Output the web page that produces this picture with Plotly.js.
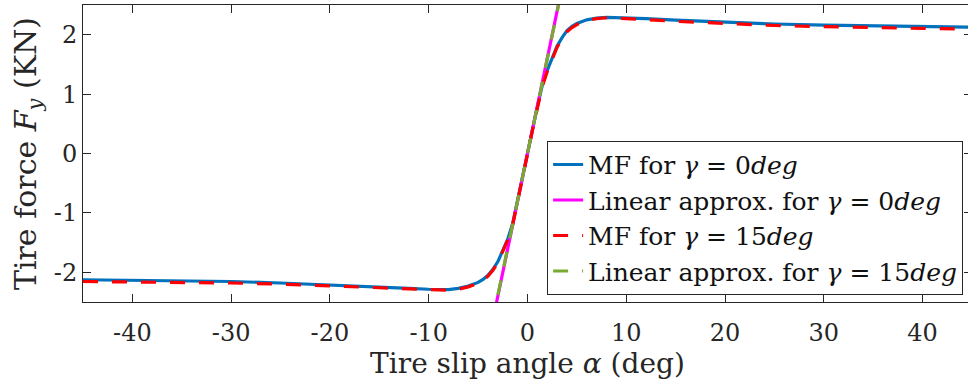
<!DOCTYPE html>
<html>
<head>
<meta charset="utf-8">
<script src="https://cdn.plot.ly/plotly-3.0.1.min.js"></script>
<style>
  html, body { margin: 0; padding: 0; overflow: hidden; background: #fff; }
  #chart { width: 976px; height: 387px; }
</style>
</head>
<body>
<div id="chart"></div>
<script>
// Slip angle samples (deg)
const slipAngle = [-45, -40, -35, -30, -25, -20, -15, -12, -10, -8, -7, -6, -5, -4.5, -4, -3.5, -3, -2.5, -2, -1.5, -1, -0.5,
  0, 0.5, 1, 1.5, 2, 2.5, 3, 3.5, 4, 4.5, 5, 6, 7, 8, 10, 12, 15, 20, 25, 30, 35, 40, 45];

// Magic Formula lateral force, camber 0 deg (kN)
const mfCamber0 = [-2.125, -2.135, -2.145, -2.155, -2.18, -2.21, -2.245, -2.27, -2.285, -2.29, -2.27, -2.23, -2.17, -2.12, -2.05, -1.95, -1.82, -1.64, -1.44, -1.18, -0.80, -0.40,
  0, 0.40, 0.79, 1.15, 1.40, 1.62, 1.81, 1.95, 2.07, 2.14, 2.19, 2.25, 2.28, 2.29, 2.285, 2.27, 2.245, 2.21, 2.18, 2.16, 2.145, 2.135, 2.125];

// Magic Formula lateral force, camber 15 deg (kN)
const mfCamber15 = [-2.155, -2.16, -2.17, -2.18, -2.20, -2.225, -2.26, -2.28, -2.295, -2.30, -2.285, -2.245, -2.185, -2.135, -2.065, -1.965, -1.835, -1.655, -1.455, -1.195, -0.815, -0.415,
  -0.01, 0.39, 0.78, 1.13, 1.38, 1.60, 1.79, 1.93, 2.05, 2.12, 2.17, 2.24, 2.27, 2.285, 2.275, 2.255, 2.225, 2.19, 2.155, 2.135, 2.115, 2.105, 2.095];

// Linear (cornering stiffness) approximations
const linAngle = [-3.6, 3.6];
const linCamber0 = [-2.88, 2.88];
const linCamber15 = [-2.86, 2.86];

// Axis ticks
const xTickVals = [-40, -30, -20, -10, 0, 10, 20, 30, 40];
const xTickText = ['-40', '-30', '-20', '-10', '0', '10', '20', '30', '40'];
const yTickVals = [-2, -1, 0, 1, 2];
const yTickText = ['-2', '-1', '0', '1', '2'];

const serif = 'DejaVu Serif';
const axisColor = '#262626';

const traces = [
  {
    x: slipAngle, y: mfCamber0, mode: 'lines', type: 'scatter',
    name: 'MF for <i>γ</i> = 0<i>deg</i>', legendgroup: 'a',
    line: { color: '#0072BD', width: 3.2 }
  },
  {
    x: linAngle, y: linCamber0, mode: 'lines', type: 'scatter',
    name: 'Linear approx. for <i>γ</i> = 0<i>deg</i>', legendgroup: 'b',
    line: { color: '#FF00FF', width: 3.2 }
  },
  {
    x: slipAngle, y: mfCamber15, mode: 'lines', type: 'scatter',
    name: 'MF for <i>γ</i> = 15<i>deg</i>', legendgroup: 'c',
    line: { color: '#FF0000', width: 3.2, dash: '15px,14px' }
  },
  {
    x: linAngle, y: linCamber15, mode: 'lines', type: 'scatter',
    name: 'Linear approx. for <i>γ</i> = 15<i>deg</i>', legendgroup: 'd',
    line: { color: '#77AC30', width: 3.2, dash: '15px,14px' }
  }
];

const layout = {
  width: 976,
  height: 387,
  margin: { l: 83, r: 4, t: 5, b: 85 },
  paper_bgcolor: '#ffffff',
  plot_bgcolor: '#ffffff',
  font: { family: serif, size: 24, color: '#262626' },
  showlegend: true,
  legend: {
    x: 0.99, xanchor: 'right',
    y: 0.543, yanchor: 'top',
    bgcolor: '#ffffff',
    bordercolor: axisColor,
    borderwidth: 1,
    font: { family: serif, size: 25, color: '#111111' },
    tracegroupgap: 0,
    itemwidth: 30
  },
  xaxis: {
    range: [-45, 45],
    tickvals: xTickVals,
    ticktext: xTickText,
    ticks: 'inside',
    ticklen: 8,
    tickcolor: axisColor,
    showline: true,
    linecolor: axisColor,
    linewidth: 1,
    mirror: 'ticks',
    showgrid: false,
    zeroline: false,
    ticklabelstandoff: 9,
    tickfont: { family: serif, size: 24, color: '#262626' },
    title: { text: 'Tire slip angle <i>α</i> (deg)', font: { family: serif, size: 28, color: '#262626' }, standoff: 0 }
  },
  yaxis: {
    range: [-2.5, 2.5],
    tickvals: yTickVals,
    ticktext: yTickText,
    ticks: 'inside',
    ticklen: 8,
    tickcolor: axisColor,
    showline: true,
    linecolor: axisColor,
    linewidth: 1,
    mirror: 'ticks',
    showgrid: false,
    zeroline: false,
    tickfont: { family: serif, size: 24, color: '#262626' },
    title: { text: 'Tire force <i>F</i><sub><i>y</i></sub> (KN)', font: { family: serif, size: 30, color: '#262626' }, standoff: 8 }
  }
};

Plotly.newPlot('chart', traces, layout, { staticPlot: true, displayModeBar: false });
</script>
</body>
</html>
